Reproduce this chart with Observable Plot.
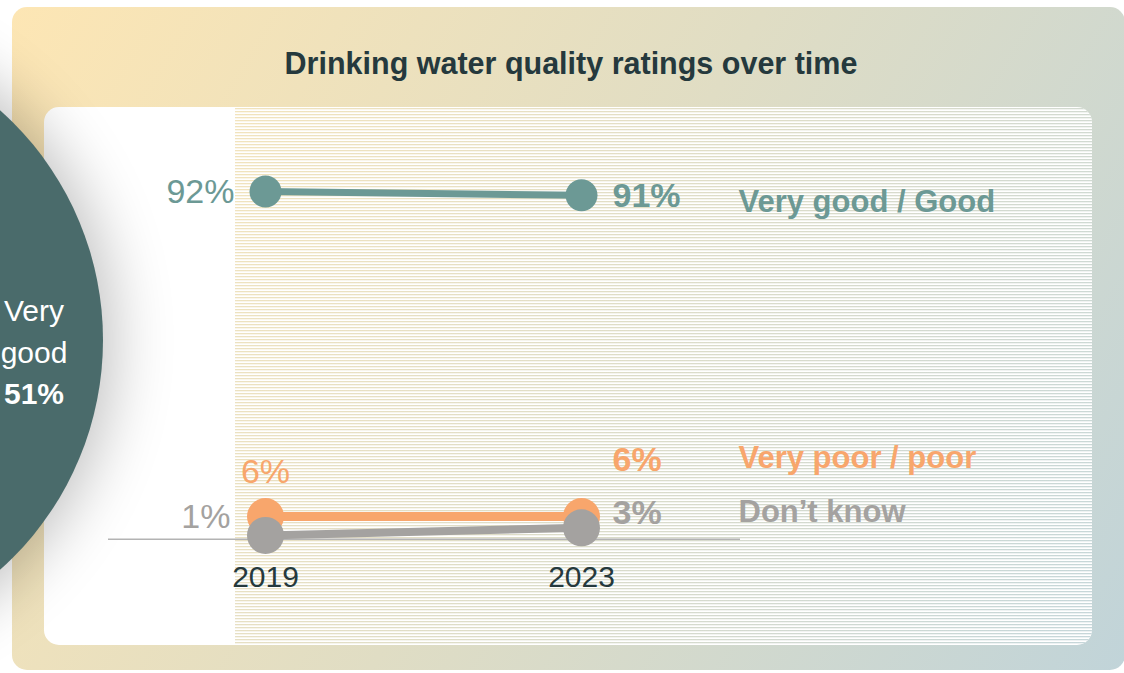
<!DOCTYPE html>
<html>
<head>
<meta charset="utf-8">
<script src="https://cdn.jsdelivr.net/npm/d3@7"></script>
<script src="https://cdn.jsdelivr.net/npm/@observablehq/plot@0.6"></script>
<style>
  html, body { margin: 0; padding: 0; background: #ffffff; overflow: hidden; }
  #stage { position: relative; width: 1124px; height: 673px; overflow: hidden;
           font-family: "Liberation Sans", Arial, Helvetica, sans-serif; }
  #bg, #chart { position: absolute; left: 0; top: 0; }
  #chart svg { display: block; background: transparent; overflow: visible; }
</style>
</head>
<body>
<div id="stage">
  <svg id="bg" width="1124" height="673" xmlns="http://www.w3.org/2000/svg">
    <defs>
      <linearGradient id="grad" gradientUnits="userSpaceOnUse" x1="12" y1="7" x2="1124" y2="670">
        <stop offset="0" stop-color="#fde6b4"/>
        <stop offset="0.5" stop-color="#e0ddc4"/>
        <stop offset="1" stop-color="#c1d4d9"/>
      </linearGradient>
      <pattern id="stripes" patternUnits="userSpaceOnUse" width="6" height="3">
        <rect x="0" y="0" width="6" height="1.3" fill="#ffffff"/>
      </pattern>
      <mask id="stripeMask">
        <rect x="235" y="107" width="857" height="538" fill="url(#stripes)"/>
      </mask>
      <clipPath id="panelClip">
        <rect x="44" y="107" width="1048" height="538" rx="15" ry="15"/>
      </clipPath>
      <filter id="shadow" x="-50%" y="-50%" width="200%" height="200%">
        <feGaussianBlur stdDeviation="32"/>
      </filter>
    </defs>
    <rect x="12" y="7" width="1113" height="663" rx="15" ry="15" fill="url(#grad)"/>
    <rect x="44" y="107" width="1048" height="538" rx="15" ry="15" fill="#ffffff"/>
    <g clip-path="url(#panelClip)">
      <rect x="235" y="107" width="857" height="538" fill="url(#grad)" mask="url(#stripeMask)" opacity="0.95"/>
    </g>
    <circle cx="-205" cy="340" r="316" fill="#000000" opacity="0.26" filter="url(#shadow)"/>
    <circle cx="-205" cy="340" r="308" fill="#4a6b6b"/>
    <g id="callout" fill="#ffffff" font-size="30" text-anchor="middle"></g>
    <text id="title" x="571" y="74" text-anchor="middle" font-size="30.5" font-weight="bold" fill="#25393d"></text>
  </svg>
  <div id="chart"></div>
</div>
<script>
// ---- data ----
const chartTitle = "Drinking water quality ratings over time";
const years = [2019, 2023];
const categories = ["Very good / Good", "Very poor / poor", "Don’t know"];
const veryGoodGood = [92, 91];
const veryPoorPoor = [6, 6];
const dontKnow = [1, 3];
const calloutLabel = ["Very", "good"];
const calloutValue = 51;

// ---- styles (kept apart from data) ----
const seriesValues = [veryGoodGood, veryPoorPoor, dontKnow];
const look = {
  "Very good / Good": {color: "#6c9995", sw: 7, r: 16,   sDx: -31, sDy: 1,     sAnchor: "end",    eDy: 0.5, nDy: 7},
  "Very poor / poor": {color: "#f8a66c", sw: 9, r: 18.5, sDx: 0,   sDy: -44,   sAnchor: "middle", eDy: -56, nDy: -58},
  "Don’t know":       {color: "#a4a2a0", sw: 8, r: 18.5, sDx: -35, sDy: -18.5, sAnchor: "end",    eDy: -15, nDy: -16}
};
const font = '"Liberation Sans", Arial, Helvetica, sans-serif';

// decorations text
document.getElementById("title").textContent = chartTitle;
const callout = document.getElementById("callout");
const calloutLines = [...calloutLabel, calloutValue + "%"];
const calloutY = [321, 363, 404];
calloutLines.forEach((t, i) => {
  const el = document.createElementNS("http://www.w3.org/2000/svg", "text");
  el.setAttribute("x", 34);
  el.setAttribute("y", calloutY[i]);
  if (i === calloutLines.length - 1) el.setAttribute("font-weight", "bold");
  el.textContent = t;
  callout.appendChild(el);
});

// ---- chart ----
const rows = categories.flatMap((c, i) => years.map((y, j) => ({cat: c, year: y, value: seriesValues[i][j]})));

const marks = [
  Plot.ruleY([0], {stroke: "#b3b3b3", strokeWidth: 1.5, insetLeft: -157, insetRight: -159}),
  Plot.axisX(years, {tickSize: 0, tickPadding: 26, tickFormat: d => String(d), fontSize: 30, fill: "#25393d", label: null})
];

categories.forEach(c => {
  const L = look[c];
  const data = rows.filter(d => d.cat === c);
  const first = data.filter(d => d.year === years[0]);
  const last = data.filter(d => d.year === years[years.length - 1]);
  marks.push(
    Plot.line(data, {x: "year", y: "value", stroke: L.color, strokeWidth: L.sw}),
    Plot.dot(data, {x: "year", y: "value", r: L.r, fill: L.color}),
    Plot.text(first, {x: "year", y: "value", text: d => d.value + "%", dx: L.sDx, dy: L.sDy,
      textAnchor: L.sAnchor, fontSize: 34, fill: L.color}),
    Plot.text(last, {x: "year", y: "value", text: d => d.value + "%", dx: 31, dy: L.eDy,
      textAnchor: "start", fontSize: 34, fontWeight: "bold", fill: L.color}),
    Plot.text(last, {x: "year", y: "value", text: "cat", dx: 157, dy: L.nDy,
      textAnchor: "start", fontSize: 31, fontWeight: "bold", fill: L.color})
  );
});

const plot = Plot.plot({
  width: 1124,
  height: 673,
  marginLeft: 265,
  marginRight: 543,
  marginTop: 191,
  marginBottom: 134.3,
  x: {domain: [years[0], years[years.length - 1]], label: null},
  y: {domain: [0, 92], axis: null},
  style: {background: "transparent", fontFamily: font, overflow: "visible"},
  marks
});
document.getElementById("chart").appendChild(plot);
</script>
</body>
</html>
